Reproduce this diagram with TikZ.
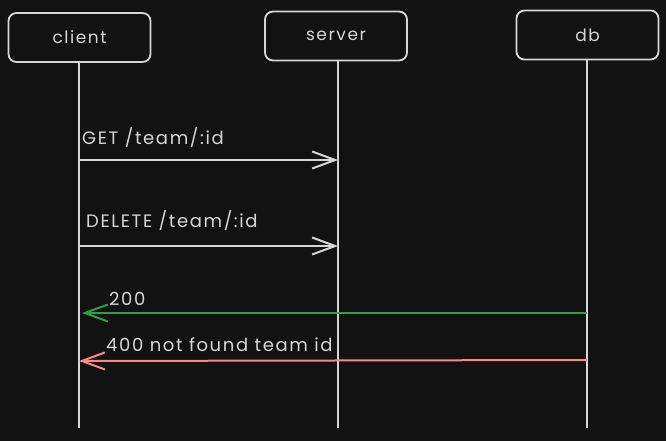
\documentclass[tikz,border=0pt]{standalone}
\usepackage{fontspec}
\setmainfont{Poppins}[LetterSpace=9]
\usetikzlibrary{arrows.meta}
\definecolor{bg}{HTML}{121212}
\definecolor{ink}{HTML}{D6D6D6}
\definecolor{okgreen}{HTML}{2F9E44}
\definecolor{errred}{HTML}{FF8787}
\begin{document}
\begin{tikzpicture}[x=1pt,y=-1pt,
  actor/.style={draw=ink,line width=1.8pt,rounded corners=8pt,minimum width=142pt,minimum height=49pt,text=ink,font=\fontsize{17}{20}\selectfont,inner sep=0pt},
  life/.style={draw=ink,line width=1.8pt},
  msg/.style={line width=2pt,-{Straight Barb[length=23pt,width=17pt,line width=2pt]}},
  lbl/.style={text=ink,anchor=base west,font=\fontsize{18}{21}\selectfont,inner sep=0pt}]
\fill[bg] (0,0) rectangle (666,441);
\useasboundingbox (0,0) rectangle (666,441);
\node[actor] (client) at (79.5,37.5) {client};
\node[actor] (server) at (336,36) {server};
\node[actor] (db) at (587.5,35) {db};
\coordinate (cend) at (79,428);
\coordinate (send) at (338,428);
\coordinate (dend) at (587,428);
\draw[life] (client.south -| cend) -- (cend);
\draw[life] (server.south -| send) -- (send);
\draw[life] (db.south -| dend) -- (dend);
\coordinate (g1) at (79,160); \coordinate (g2) at (338,160);
\coordinate (d1) at (79,246); \coordinate (d2) at (338,246);
\coordinate (o1) at (587,313); \coordinate (o2) at (82,313);
\coordinate (e1) at (587,360); \coordinate (e2) at (79,361);
\draw[msg,draw=ink] (g1) -- (g2);
\draw[msg,draw=ink] (d1) -- (d2);
\draw[msg,draw=okgreen] (o1) -- (o2);
\draw[msg,draw=errred] (e1) -- (e2);
\node[lbl] (lget) at (82,144) {GET /team/:id};
\node[lbl] (ldel) at (86,227) {DELETE /team/:id};
\node[lbl] (lok) at (109,305) {200};
\node[lbl] (lerr) at (106,351) {400 not found team id};
\end{tikzpicture}
\end{document}
